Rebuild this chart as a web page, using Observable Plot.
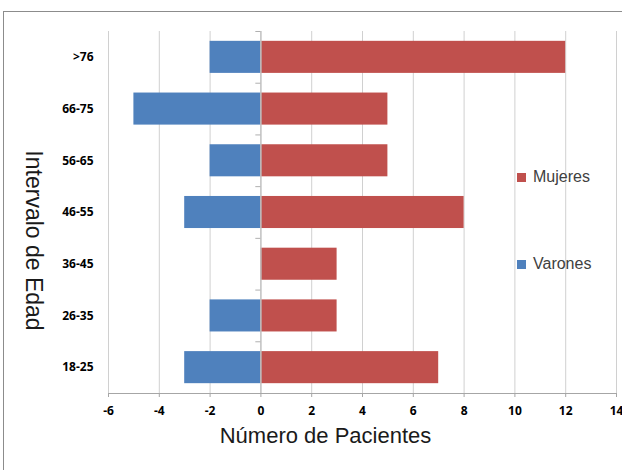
<!DOCTYPE html>
<html>
<head>
<meta charset="utf-8">
<script src="https://cdn.jsdelivr.net/npm/d3@7"></script>
<script src="https://cdn.jsdelivr.net/npm/@observablehq/plot@0.6"></script>
<style>
  body { margin: 0; background: #fff; }
  #wrap { position: relative; width: 622px; height: 470px; overflow: hidden; }
  #border { position: absolute; left: 3px; top: 11px; right: -2px; bottom: -2px;
            border-top: 1px solid #8c8c8c; border-left: 1px solid #8c8c8c; }
  #chart { position: absolute; left: 0; top: 0; }
  .legend { position: absolute; left: 517px; font: 16px "Liberation Sans", Arial, sans-serif;
            color: #404040; display: flex; align-items: center; }
  .legend span.sw { display: inline-block; width: 9px; height: 9px; margin-right: 7px; }
</style>
</head>
<body>
<div id="wrap">
  <div id="border"></div>
  <div id="chart"></div>
  <div class="legend" style="top:168px"><span class="sw" style="background:#C0504D"></span>Mujeres</div>
  <div class="legend" style="top:255px"><span class="sw" style="background:#4F81BD"></span>Varones</div>
</div>
<script>
// Age groups, top to bottom
const grupos = [">76", "66-75", "56-65", "46-55", "36-45", "26-35", "18-25"];
// Number of patients per age group
const mujeres = [12, 5, 5, 8, 3, 3, 7];
const varones = [2, 5, 2, 3, 0, 2, 3];
// Axis ticks
const xTicks = [-6, -4, -2, 0, 2, 4, 6, 8, 10, 12, 14];

const series = ["Mujeres", "Varones"];
const colores = ["#C0504D", "#4F81BD"];

// Men are drawn to the left of zero, women to the right
const filas = [
  ...grupos.map((g, i) => ({grupo: g, sexo: "Mujeres", valor: mujeres[i]})),
  ...grupos.map((g, i) => ({grupo: g, sexo: "Varones", valor: -varones[i]}))
];

const tickFont = {fontFamily: "'Open Sans', sans-serif", fontWeight: "bold", fontSize: 12, fill: "#000"};

const chart = Plot.plot({
  width: 622,
  height: 470,
  marginLeft: 108,
  marginRight: 6,
  marginTop: 31,
  marginBottom: 77,
  style: {background: "transparent", overflow: "visible"},
  x: {domain: [-6, 14], ticks: xTicks},
  y: {domain: grupos, paddingInner: 0.38, paddingOuter: 0.19, round: false},
  color: {domain: series, range: colores},
  marks: [
    Plot.gridX(xTicks.filter(t => t !== 0), {stroke: "#d0d0d0", strokeOpacity: 1}),
    Plot.barX(filas, {y: "grupo", x1: 0, x2: "valor", fill: "sexo"}),
    Plot.ruleX([0], {stroke: "#c0c0c0", strokeWidth: 1.5}),
    // small ticks on the zero axis at band boundaries
    Plot.ruleY(grupos, {y: d => d, x1: -0.2, x2: 0, dy: -25.86, stroke: "#b0b0b0"}),
    Plot.frame({anchor: "bottom", stroke: "#a6a6a6"}),
    Plot.axisX({ticks: xTicks, tickSize: 4, tickPadding: 9, stroke: "#a6a6a6", label: null, ...tickFont, tickFormat: d => String(d)}),
    Plot.axisY({tickSize: 0, tickPadding: 15, label: null, ...tickFont}),
    Plot.text(["Número de Pacientes"], {frameAnchor: "bottom", dx: -37, dy: 49, fontSize: 22,
      fontFamily: "'Liberation Sans', Arial, sans-serif", fill: "#1a1a1a"}),
    Plot.text(["Intervalo de Edad"], {frameAnchor: "left", textAnchor: "middle", rotate: 90, dx: -75, dy: 28, fontSize: 23,
      fontFamily: "'Liberation Sans', Arial, sans-serif", fill: "#1a1a1a"})
  ]
});
document.getElementById("chart").append(chart);
</script>
</body>
</html>
